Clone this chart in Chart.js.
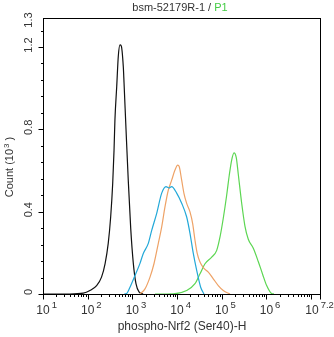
<!DOCTYPE html>
<html>
<head>
<meta charset="utf-8">
<script src="https://cdn.jsdelivr.net/npm/chart.js@4/dist/chart.umd.min.js"></script>
<style>
  html, body { margin: 0; padding: 0; background: #fff; }
  #wrap { width: 334px; height: 337px; }
</style>
</head>
<body>
<div id="wrap"><canvas id="myChart" width="334" height="337"></canvas></div>
<script>
// x values are log10 of intensity, y values are counts in 10^3
const blackX = [1.0, 1.6, 1.9, 2.05, 2.2, 2.31, 2.39, 2.46, 2.515, 2.56, 2.59, 2.61, 2.65, 2.685, 2.723, 2.752, 2.797, 2.813, 2.858, 2.909, 2.963, 3.021, 3.081, 3.149, 3.24];
const blackY = [0, 0, 0.004, 0.017, 0.041, 0.082, 0.148, 0.246, 0.375, 0.537, 0.699, 0.846, 1.008, 1.154, 1.21, 1.205, 1.105, 1.03, 0.80, 0.55, 0.32, 0.15, 0.05, 0.01, 0];

const cyanX = [2.82, 2.873, 2.947, 3.059, 3.171, 3.245, 3.357, 3.433, 3.545, 3.657, 3.753, 3.82, 3.88, 3.992, 4.104, 4.216, 4.29, 4.364, 4.44, 4.529, 4.603];
const cyanY = [0, 0.002, 0.033, 0.09, 0.149, 0.197, 0.246, 0.309, 0.392, 0.49, 0.522, 0.515, 0.522, 0.49, 0.441, 0.374, 0.295, 0.197, 0.115, 0.033, 0];

const orangeX = [3.171, 3.283, 3.395, 3.484, 3.58, 3.657, 3.73, 3.804, 3.88, 3.954, 4.015, 4.05, 4.104, 4.156, 4.216, 4.29, 4.35, 4.402, 4.453, 4.514, 4.588, 4.7, 4.811, 4.923, 5.035, 5.185];
const orangeY = [0, 0.025, 0.082, 0.147, 0.245, 0.326, 0.423, 0.504, 0.553, 0.602, 0.626, 0.618, 0.553, 0.488, 0.44, 0.399, 0.342, 0.261, 0.196, 0.155, 0.128, 0.106, 0.074, 0.041, 0.017, 0];

const greenX = [3.507, 3.916, 4.216, 4.402, 4.514, 4.626, 4.776, 4.888, 4.962, 5.035, 5.111, 5.169, 5.223, 5.275, 5.326, 5.371, 5.447, 5.521, 5.595, 5.707, 5.818, 5.917, 6.006, 6.118, 6.17];
const greenY = [0, 0.001, 0.017, 0.05, 0.098, 0.147, 0.179, 0.212, 0.277, 0.368, 0.48, 0.577, 0.651, 0.686, 0.663, 0.582, 0.441, 0.329, 0.266, 0.222, 0.158, 0.095, 0.041, 0.002, 0];

const xMajor = [1, 2, 3, 4, 5, 6, 7];
const xLabels = ["1", "2", "3", "4", "5", "6", "7.2"];
const yLabelVals = [0, 0.4, 0.8, 1.2];
const yLabels = ["0", "0.4", "0.8", "1.2"];
const yTopLabel = "1.3";
const xMin = 1, xMax = 7.2, yMin = 0, yMax = 1.341;

const titleMain = "bsm-52179R-1 / ";
const titleGate = "P1";
const xTitle = "phospho-Nrf2 (Ser40)-H";

const textColor = "#333";
const font = "'Liberation Sans', Arial, sans-serif";

function pts(xs, ys) {
    return xs.map((x, i) => ({ x: x, y: ys[i] }));
}

const axesPlugin = {
    id: 'flowAxes',
    afterDatasetsDraw(chart) {
        const ctx = chart.ctx;
        const a = chart.chartArea;
        const sx = chart.scales.x;
        const sy = chart.scales.y;
        ctx.save();
        // frame
        ctx.strokeStyle = "#000";
        ctx.lineWidth = 1;
        ctx.strokeRect(Math.round(a.left) + 0.5, Math.round(a.top) + 0.5, Math.round(a.right - a.left), Math.round(a.bottom - a.top));
        const base = Math.round(a.bottom) + 0.5;
        const leftEdge = Math.round(a.left) + 0.5;

        // x ticks
        ctx.beginPath();
        for (let d = 1; d <= 7; d++) {
            let px = Math.round(sx.getPixelForValue(d)) + 0.5;
            ctx.moveTo(px, base); ctx.lineTo(px, base + 5);
            for (let k = 2; k <= 9; k++) {
                let v = d + Math.log10(k);
                if (v > xMax) break;
                let mx = Math.round(sx.getPixelForValue(v)) + 0.5;
                ctx.moveTo(mx, base); ctx.lineTo(mx, base + 2.5);
            }
        }
        let endX = Math.round(sx.getPixelForValue(xMax)) + 0.5;
        ctx.moveTo(endX, base); ctx.lineTo(endX, base + 5);
        // y ticks
        for (let v = 0; v <= yMax; v = Math.round((v + 0.08) * 100) / 100) {
            let py = Math.round(sy.getPixelForValue(v)) + 0.5;
            let major = Math.abs(v / 0.4 - Math.round(v / 0.4)) < 0.001;
            ctx.moveTo(leftEdge, py); ctx.lineTo(leftEdge - (major ? 5 : 2.5), py);
        }
        ctx.stroke();

        // x tick labels 10^n
        ctx.fillStyle = textColor;
        ctx.textBaseline = "alphabetic";
        for (let i = 0; i < xLabels.length; i++) {
            let v = (i === xLabels.length - 1) ? xMax : xMajor[i];
            let px = sx.getPixelForValue(v);
            if (i === xLabels.length - 1) px -= 8;
            ctx.font = "12px " + font;
            ctx.textAlign = "center";
            ctx.fillText("10", px, 314);
            let w = ctx.measureText("10").width;
            ctx.font = "9.5px " + font;
            ctx.textAlign = "left";
            ctx.fillText(xLabels[i], px + w / 2 + 2, 308);
        }

        // y tick labels, rotated
        ctx.font = "11px " + font;
        ctx.textAlign = "center";
        ctx.textBaseline = "middle";
        const yLab = (txt, py) => {
            ctx.save();
            ctx.translate(29, py);
            ctx.rotate(-Math.PI / 2);
            ctx.fillText(txt, 0, 0);
            ctx.restore();
        };
        yLabelVals.forEach((v, i) => yLab(yLabels[i], sy.getPixelForValue(v) - 2));
        yLab(yTopLabel, a.top + 2);

        // y title: Count (10^3)
        ctx.save();
        ctx.translate(10, 167);
        ctx.rotate(-Math.PI / 2);
        ctx.font = "11px " + font;
        let p1 = "Count (10", p2 = "3", p3 = ")";
        let w1 = ctx.measureText(p1).width;
        ctx.font = "8px " + font;
        let w2 = ctx.measureText(p2).width;
        ctx.font = "11px " + font;
        let w3 = ctx.measureText(p3).width;
        let total = w1 + w2 + 2 + w3 + 2;
        let sxp = -total / 2;
        ctx.textAlign = "left";
        ctx.textBaseline = "middle";
        ctx.fillText(p1, sxp, 0);
        ctx.font = "8px " + font;
        ctx.fillText(p2, sxp + w1 + 1, -3);
        ctx.font = "11px " + font;
        ctx.fillText(p3, sxp + w1 + w2 + 4, 0);
        ctx.restore();

        // x title
        ctx.font = "12px " + font;
        ctx.textAlign = "center";
        ctx.textBaseline = "middle";
        ctx.fillStyle = textColor;
        ctx.fillText(xTitle, 182, 327);

        // title
        ctx.font = "11px " + font;
        let tw1 = ctx.measureText(titleMain).width;
        let tw2 = ctx.measureText(titleGate).width;
        let tx = 180 - (tw1 + tw2) / 2;
        ctx.textAlign = "left";
        ctx.fillStyle = textColor;
        ctx.fillText(titleMain, tx, 8);
        ctx.fillStyle = "#44cc44";
        ctx.fillText(titleGate, tx + tw1, 8);
        ctx.restore();
    }
};

const ds = (xs, ys, color) => ({
    data: pts(xs, ys),
    borderColor: color,
    borderWidth: 1.2,
    pointRadius: 0,
    fill: false,
    tension: 0.35,
    cubicInterpolationMode: 'monotone'
});

const chartArea = document.getElementById("myChart").getContext('2d');
new Chart(chartArea, {
    type: 'line',
    data: {
        datasets: [
            ds(cyanX, cyanY, "#22a8d8"),
            ds(orangeX, orangeY, "#eea266"),
            ds(greenX, greenY, "#5cd652"),
            ds(blackX, blackY, "#111111")
        ]
    },
    options: {
        responsive: false,
        animation: false,
        layout: { padding: { left: 43, right: 14, top: 18, bottom: 43 } },
        plugins: {
            legend: { display: false },
            tooltip: { enabled: false }
        },
        scales: {
            x: { type: 'linear', min: xMin, max: xMax, display: false },
            y: { type: 'linear', min: yMin, max: yMax, display: false }
        }
    },
    plugins: [axesPlugin]
});
</script>
</body>
</html>
